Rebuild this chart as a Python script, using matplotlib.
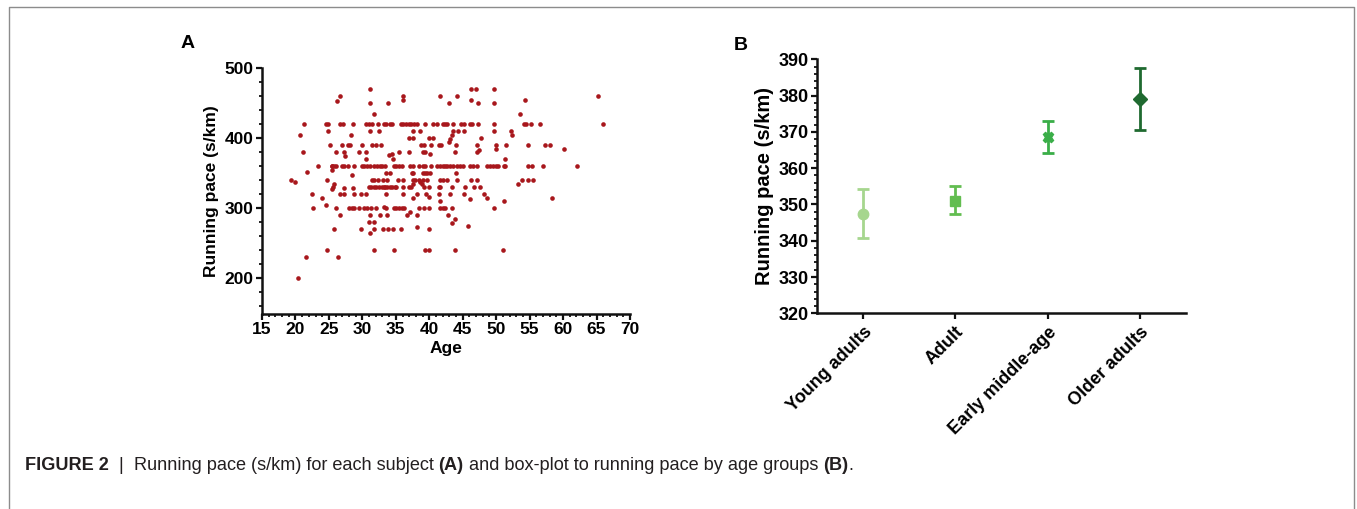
import numpy as np
import matplotlib
matplotlib.use("Agg")
import matplotlib.pyplot as plt
from matplotlib.lines import Line2D
from matplotlib.ticker import MultipleLocator

plt.rcParams['font.family'] = ['Liberation Sans', 'DejaVu Sans']
plt.rcParams['font.weight'] = 'bold'

# panel A: (age, running pace s/km) per subject
subjects = [
    (31.1, 470), (46.3, 470), (47.0, 470), (49.6, 470),
    (26.6, 460), (36.0, 460), (41.6, 460), (44.1, 460), (65.2, 460),
    (26.2, 453), (36.0, 454), (46.3, 454), (54.3, 454),
    (31.2, 450), (33.9, 450), (42.9, 450), (47.3, 450), (49.7, 450),
    (31.8, 435), (53.6, 435),
    (21.3, 420), (24.5, 420), (24.8, 420), (26.7, 420), (27.1, 420), (28.6, 420),
    (30.6, 420), (31.0, 420), (31.4, 420), (32.4, 420), (33.3, 420), (33.5, 420),
    (34.1, 420), (34.5, 420), (35.7, 420), (36.1, 420), (36.5, 420), (36.9, 420),
    (37.3, 420), (37.7, 420), (38.1, 420), (39.4, 420), (40.5, 420), (41.1, 420),
    (42.0, 420), (42.4, 420), (42.7, 420), (43.5, 420), (44.8, 420), (45.2, 420),
    (46.1, 420), (46.4, 420), (47.3, 420), (49.7, 420), (54.1, 420), (54.5, 420),
    (55.2, 420), (56.5, 420), (65.9, 420),
    (24.9, 410), (31.2, 410), (32.5, 410), (37.5, 410), (38.6, 410), (43.5, 410),
    (44.3, 410), (45.2, 410), (49.7, 410), (52.2, 410),
    (20.7, 405), (28.3, 405), (43.4, 405), (52.3, 405),
    (36.9, 400), (37.5, 400), (40.0, 400), (40.6, 400), (43.1, 399), (47.7, 400),
    (42.9, 394),
    (25.2, 390), (27.0, 390), (27.8, 390), (28.1, 390), (30.0, 390), (31.5, 390),
    (32.1, 390), (32.8, 390), (38.7, 390), (39.2, 390), (40.2, 390), (41.4, 390),
    (41.7, 390), (44.0, 390), (47.2, 390), (49.9, 390), (51.5, 390), (54.8, 390),
    (57.3, 390), (58.0, 390),
    (49.9, 385), (60.1, 385), (47.5, 383),
    (21.2, 380), (26.1, 380), (27.2, 380), (29.5, 380), (30.5, 380), (35.5, 380),
    (37.0, 380), (39.1, 380), (39.4, 380), (43.9, 380), (47.1, 380), (34.4, 378),
    (34.0, 376), (40.1, 378), (27.4, 375),
    (30.5, 370), (34.6, 370), (51.3, 370),
    (23.4, 360), (25.4, 360), (25.5, 360), (25.8, 360), (26.1, 360), (27.0, 360),
    (27.3, 360), (27.9, 360), (28.8, 360), (29.9, 360), (30.3, 360), (30.7, 360),
    (31.1, 360), (31.8, 360), (32.2, 360), (32.6, 360), (33.0, 360), (33.4, 360),
    (34.7, 360), (35.1, 360), (35.5, 360), (35.9, 360), (37.1, 360), (37.5, 360),
    (38.5, 360), (39.1, 360), (39.4, 360), (40.3, 360), (41.1, 360), (41.6, 360),
    (42.0, 360), (42.4, 360), (42.7, 360), (43.1, 360), (43.5, 360), (44.2, 360),
    (44.6, 360), (45.0, 360), (46.1, 360), (46.6, 360), (47.2, 360), (48.6, 360),
    (49.1, 360), (49.5, 360), (50.0, 360), (50.3, 360), (51.2, 360), (51.3, 360),
    (54.8, 360), (55.3, 360), (57.0, 360), (62.1, 360),
    (25.4, 354), (21.7, 352),
    (33.5, 350), (34.1, 350), (37.4, 350), (37.6, 350), (39.1, 350), (39.4, 350),
    (39.7, 350), (40.1, 350), (44.0, 350), (28.5, 347),
    (19.4, 340), (20.0, 338), (24.7, 340), (31.4, 340), (31.8, 340), (32.4, 340),
    (33.1, 340), (33.7, 340), (35.4, 340), (36.1, 340), (37.5, 340), (37.9, 340),
    (38.5, 340), (39.1, 340), (39.7, 340), (41.6, 340), (42.1, 340), (42.6, 340),
    (44.2, 340), (46.3, 340), (47.1, 340), (53.9, 340), (54.7, 340), (55.5, 340),
    (38.6, 337),
    (25.8, 334), (37.5, 334), (38.9, 334), (53.2, 334),
    (25.6, 331), (27.2, 329), (28.6, 329), (31.0, 330), (31.3, 330), (31.7, 330),
    (32.1, 330), (32.5, 330), (32.9, 330), (33.3, 330), (33.4, 330), (33.7, 330),
    (34.1, 330), (34.5, 330), (34.9, 330), (35.1, 330), (36.0, 330), (37.0, 330),
    (40.0, 330), (41.4, 330), (41.6, 330), (43.4, 330), (45.3, 330), (46.7, 330),
    (47.6, 330), (37.2, 330), (39.2, 331), (25.4, 328),
    (22.4, 320), (26.6, 320), (27.3, 320), (28.8, 320), (29.8, 320), (30.5, 320),
    (33.5, 320), (36.1, 320), (38.1, 320), (39.5, 320), (41.4, 320), (43.1, 320),
    (45.2, 320), (48.2, 320),
    (23.9, 315), (37.5, 315), (40.0, 316), (48.6, 315), (58.4, 314), (46.1, 313),
    (41.6, 311), (51.2, 311),
    (22.6, 300), (24.5, 304), (26.1, 300), (28.0, 300), (28.4, 300), (28.8, 300),
    (29.5, 300), (30.3, 300), (30.7, 300), (31.3, 300), (32.1, 300), (33.2, 302),
    (33.6, 300), (34.7, 300), (35.1, 300), (35.5, 300), (35.9, 300), (36.2, 300),
    (38.4, 300), (39.2, 300), (40.0, 300), (41.6, 300), (42.0, 300), (42.4, 300),
    (43.4, 300), (49.7, 300),
    (26.7, 290), (31.2, 290), (32.6, 290), (33.7, 290), (36.6, 290), (38.2, 290),
    (42.8, 290), (37.1, 294), (43.9, 285),
    (31.0, 280), (31.7, 280), (43.4, 279), (45.8, 275), (38.1, 273),
    (25.8, 270), (29.8, 270), (31.7, 270), (33.1, 270), (33.9, 270), (34.6, 270),
    (35.7, 270), (39.9, 270), (31.1, 265),
    (24.7, 240), (31.7, 240), (34.7, 240), (39.4, 240), (40.0, 240), (43.9, 240),
    (51.0, 240),
    (21.6, 230), (26.4, 230),
    (20.4, 200),
]

# panel B: mean and error bar ends per age group
groups = ["Young adults", "Adult", "Early middle-age", "Older adults"]
group_mean = [347.4, 351.0, 368.6, 379.0]
group_low = [340.7, 347.3, 364.1, 370.5]
group_high = [354.2, 355.1, 373.0, 387.5]
group_colors = ["#a6d68e", "#62bd50", "#3aae48", "#1f6a30"]
group_markers = ["o", "s", "X", "D"]

W, H = 1357, 509
fig = plt.figure(figsize=(W / 100, H / 100), dpi=100)

def box(l, t, r, b):
    return [l / W, 1 - b / H, (r - l) / W, (b - t) / H]

ink = "#111111"

def style_axes(ax, size):
    for s in ["top", "right"]:
        ax.spines[s].set_visible(False)
    for s in ["left", "bottom"]:
        ax.spines[s].set_linewidth(1.8)
        ax.spines[s].set_color(ink)
    ax.tick_params(which="major", length=4.5, width=1.6, color=ink, pad=1.5, labelsize=size)
    ax.tick_params(which="minor", length=2.5, width=1.3, color=ink)

# ---- panel A
axA = fig.add_axes(box(262, 68, 630, 313.5))
ages = [p[0] for p in subjects]
paces = [p[1] for p in subjects]
axA.scatter(ages, paces, s=11, color="#a8171c", linewidths=0, zorder=3)
axA.set_xlim(15, 70)
axA.set_ylim(150, 500)
axA.xaxis.set_major_locator(MultipleLocator(5))
axA.xaxis.set_minor_locator(MultipleLocator(1))
axA.yaxis.set_minor_locator(MultipleLocator(20))
axA.set_yticks([200, 300, 400, 500])
style_axes(axA, 12.5)
axA.set_xlabel("Age", fontsize=12.5, fontweight="bold", labelpad=3)
axA.set_ylabel("Running pace (s/km)", fontsize=12.5, fontweight="bold", labelpad=4)
fig.text(188 / W, 1 - 43 / H, "A", fontsize=14, fontweight="bold", ha="center", va="center")

# ---- panel B
axB = fig.add_axes(box(817, 59.3, 1186, 313.3))
x = np.arange(len(groups))
for i in range(len(groups)):
    err = [[group_mean[i] - group_low[i]], [group_high[i] - group_mean[i]]]
    axB.errorbar([x[i]], [group_mean[i]], yerr=err, fmt=group_markers[i],
                 color=group_colors[i], markersize=7.5 if group_markers[i] != "s" else 6.5,
                 elinewidth=2.0, capsize=4.5, capthick=2.0, zorder=3)
axB.set_xlim(-0.5, 3.5)
axB.set_ylim(320, 390)
axB.yaxis.set_major_locator(MultipleLocator(10))
axB.yaxis.set_minor_locator(MultipleLocator(2))
axB.set_xticks(x)
axB.set_xticklabels(groups, rotation=45, ha="right", rotation_mode="anchor")
style_axes(axB, 13)
axB.tick_params(axis="x", pad=3)
axB.set_ylabel("Running pace (s/km)", fontsize=14.5, fontweight="bold", labelpad=3)
fig.text(741 / W, 1 - 45 / H, "B", fontsize=14, fontweight="bold", ha="center", va="center")

# ---- outer frame (top, left, right)
frame_col = "#8c8c8c"
fig.add_artist(Line2D([9 / W, 9 / W, 1354 / W, 1354 / W], [0, 1 - 7 / H, 1 - 7 / H, 0],
                      transform=fig.transFigure, color=frame_col, linewidth=1.0))

# ---- caption with mixed weights
caption = [("FIGURE 2", "bold"), ("  |  ", "normal"),
           ("Running pace (s/km) for each subject ", "normal"), ("(A)", "bold"),
           (" and box-plot to running pace by age groups ", "normal"), ("(B)", "bold"),
           (".", "normal")]
renderer = fig.canvas.get_renderer()
xpos = 25
for txt, wt in caption:
    t = fig.text(xpos / W, 1 - 465 / H, txt, fontsize=13.1, fontweight=wt,
                 color="#231f20", ha="left", va="center")
    bb = t.get_window_extent(renderer=renderer)
    xpos += bb.width

fig.savefig("out.png", dpi=100)
